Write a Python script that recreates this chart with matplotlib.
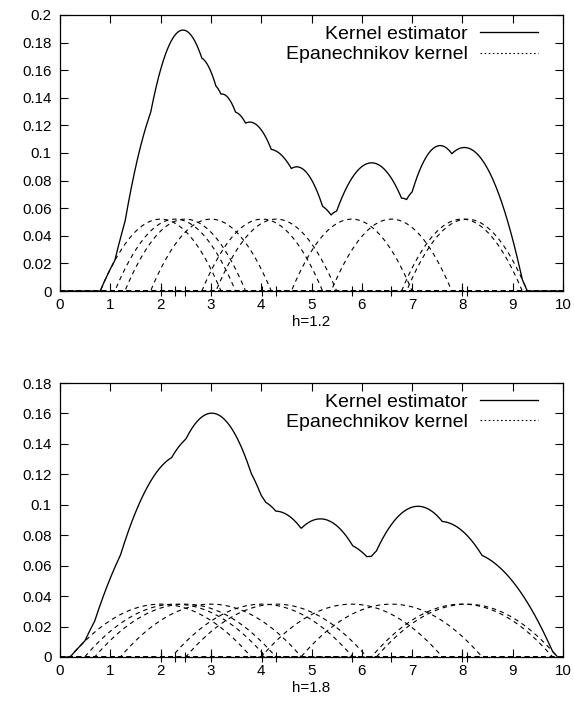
import numpy as np
import matplotlib
matplotlib.use("Agg")
import matplotlib.pyplot as plt

plt.rcParams['font.family'] = ['Liberation Sans', 'DejaVu Sans']

# Observed sample
samples = [2.0, 2.29, 2.49, 3.0, 4.02, 4.3, 5.8, 6.59, 7.99, 8.09]
n_norm = 12          # normalising count used for the density
bandwidths = [1.2, 1.8]
y_limits = [0.2, 0.18]
x_ticks = list(range(0, 11))
panel_labels = ["h=1.2", "h=1.8"]

DPI = 100
fig = plt.figure(figsize=(5.74, 7.16), dpi=DPI)

ax_rects = [
    [60 / 574, 1 - 291 / 716, 503 / 574, 276 / 716],
    [60 / 574, 1 - 657 / 716, 503 / 574, 274 / 716],
]

xs = np.linspace(0, 10, 2001)


def epanechnikov(x, c, h):
    u = (x - c) / h
    return np.where(np.abs(u) < 1, 0.75 * (1 - u ** 2), 0.0) / (n_norm * h)


def y_fmt(v):
    s = f"{v:.2f}".rstrip("0").rstrip(".")
    return s


for rect, h, ymax, lab in zip(ax_rects, bandwidths, y_limits, panel_labels):
    ax = fig.add_axes(rect)
    kernels = [epanechnikov(xs, c, h) for c in samples]
    estimate = np.sum(kernels, axis=0)

    for k in kernels:
        ax.plot(xs, k, color="black", lw=0.8, dashes=(4, 3.5))
    est, = ax.plot(xs, estimate, color="black", lw=0.95)

    # sample positions marked on the axis
    ax.plot(samples, [0] * len(samples), ls="none", marker="|", ms=6.5,
            mew=0.8, color="black", clip_on=False)

    ax.set_xlim(0, 10)
    ax.set_ylim(0, ymax)
    ax.set_xticks(x_ticks)
    yt = np.round(np.arange(0, ymax + 1e-9, 0.02), 2)
    ax.set_yticks(yt)
    ax.set_yticklabels([y_fmt(v) for v in yt])
    ax.tick_params(direction="in", top=True, right=True, length=5.5,
                   width=0.8, labelsize=10.9, pad=6)
    ax.tick_params(axis="x", pad=5)
    for sp in ax.spines.values():
        sp.set_linewidth(0.9)
    ax.set_xlabel(lab, fontsize=10.9, labelpad=2)

    legend_line = plt.Line2D([], [], color="black", lw=0.8, dashes=(1.5, 2.2))
    ax.legend([est, legend_line], ["Kernel estimator", "Epanechnikov kernel"],
              loc="upper right", bbox_to_anchor=(0.95, 0.963),
              markerfirst=False, frameon=False,
              fontsize=14, handlelength=3.0, handletextpad=0.6,
              labelspacing=0.15, borderaxespad=0, borderpad=0)

fig.savefig("out.png", dpi=DPI)
